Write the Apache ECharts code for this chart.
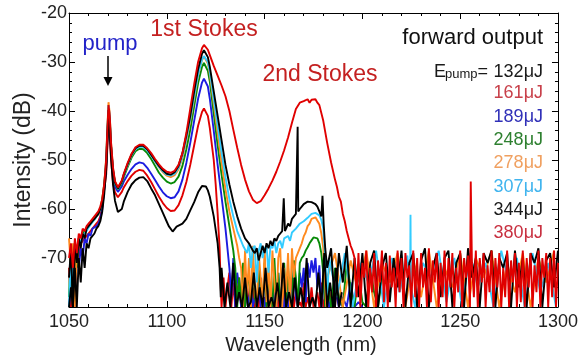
<!DOCTYPE html>
<html><head><meta charset="utf-8">
<script src="https://cdn.jsdelivr.net/npm/echarts@6/dist/echarts.min.js"></script>
<style>html,body{margin:0;padding:0;background:#fff}#c{width:581px;height:361px}</style>
</head><body><div id="c"></div>
<script>
// ---- tick labels / legend ----
const xTickLabels = [1050,1100,1150,1200,1250,1300];
const yTickLabels = [-70,-60,-50,-40,-30,-20];
const energies = ['132','161','189','248','278','307','344','380'];
const lineColors = ['#000000','#e00000','#1c1ce0','#078a07','#ff8a1e','#33ccff','#000000','#e00000'];
const labelColors = ['#1a1a1a','#c8404a','#3030b8','#2e8030','#f0a060','#40b4ee','#1a1a1a','#c83040'];

// ---- leading part 1050..1068 nm, 1 nm sampling ----
const lead132 = [-80,-76,-80,-72,-80,-70,-75,-68,-72,-67,-68,-66,-66,-65,-64,-63.5,-62.5,-60.5,-57];
const lead161 = [-72,-80,-69,-73,-68,-70,-67,-67,-66,-66,-65,-64.5,-64,-63.5,-63,-62.5,-61.5,-59.5,-56];
const lead189 = [-80,-75,-71,-80,-70,-72,-68,-70,-66,-67,-65,-65.5,-64,-64,-63.5,-63,-62,-60,-56];
const lead248 = [-78,-68,-80,-68,-72,-66,-66,-65,-64.5,-64,-63.5,-63,-62.5,-62,-61.5,-61,-60,-58,-55];
const lead278 = [-66,-72,-67,-80,-68,-66.5,-67,-65,-65.5,-64,-64,-63,-62.5,-62,-61.5,-61,-60,-58,-55];
const lead307 = [-80,-69,-75,-67,-70,-66,-67,-65.5,-65,-64.5,-63.8,-63.2,-62.8,-62.2,-61.6,-61,-60,-58.5,-55.5];
const lead344 = [-74,-68,-80,-67,-71,-66,-68,-65,-66,-64,-64,-63,-62.5,-62,-61.5,-61,-60,-58.5,-55.5];
const lead380 = [-70,-67,-72,-66,-69,-65,-66,-64,-64.5,-63.5,-63,-62.5,-62,-61.5,-61,-60.5,-59.5,-58,-55];

// ---- main spectra [nm, dB] ----
const main380 = [[1069,-50],[1069.6,-44],[1070.2,-38.8],[1070.8,-40.8],[1071.5,-46.5],[1072.5,-51.5],[1073.5,-54.3],[1075,-55.6],[1076,-55.4],[1077,-54.2],[1078,-52.8],[1080,-50.6],[1082,-48.7],[1084,-47.4],[1086,-46.9],[1088,-46.9],[1090,-47.6],[1092,-48.6],[1094,-49.8],[1096,-50.9],[1098,-51.8],[1100,-52.4],[1102,-52.6],[1104,-52.2],[1106,-51],[1108,-48.6],[1110,-44.5],[1112,-39.5],[1114,-34.5],[1116,-30],[1118,-27.2],[1119,-26.5],[1120,-26.7],[1121,-27.5],[1122,-28.6],[1124,-30.8],[1126,-32.8],[1128,-34.8],[1130,-37],[1132,-40],[1134,-43.8],[1136,-47.5],[1138,-51],[1140,-54],[1142,-56.4],[1144,-58.1],[1146,-58.8],[1148,-58.4],[1150,-57.2],[1152,-55.8],[1154,-54.2],[1156,-52.4],[1158,-50.3],[1160,-48],[1162,-45.4],[1164,-42.4],[1166,-39.6],[1168,-38.3],[1170,-38],[1172,-37.6],[1173,-38.3],[1174,-37.7],[1176,-37.6],[1177,-38.3],[1178,-38.8],[1180,-42],[1182,-46.5],[1184,-50.5],[1186,-54],[1187,-55.5],[1188,-57.5],[1189,-58.5],[1190,-61],[1191,-62.5],[1192,-64.5],[1193,-66],[1194,-67.5],[1195,-68.5],[1255.4,-54.4]];
const main344 = [[1069,-51],[1069.6,-45],[1070.2,-39.8],[1070.8,-41.8],[1071.5,-47.2],[1072.5,-52],[1073.5,-54.6],[1075,-55.8],[1076,-55.5],[1077,-54.4],[1078,-53],[1080,-50.8],[1082,-48.9],[1084,-47.6],[1086,-47.1],[1088,-47.1],[1090,-47.8],[1092,-48.9],[1094,-50.1],[1096,-51.2],[1098,-52.1],[1100,-52.8],[1102,-53],[1104,-52.5],[1106,-51.2],[1108,-48.6],[1110,-45],[1112,-41],[1114,-36],[1116,-31.5],[1118,-28.3],[1119,-27.6],[1120,-27.9],[1121,-29],[1122,-31],[1124,-36],[1126,-41],[1128,-46],[1130,-51],[1132,-55],[1134,-58.5],[1136,-61.5],[1138,-64],[1140,-66],[1142,-67],[1144,-68.5],[1145,-69],[1146,-68],[1147,-70.5],[1148,-69],[1149,-67.5],[1150,-69],[1151,-67],[1152,-68],[1153,-66.5],[1154,-67.5],[1155,-66],[1156,-66.5],[1157,-65.5],[1158,-65],[1159,-64.5],[1159.8,-57.8],[1160.4,-64.5],[1161,-64],[1162,-63],[1163,-63.5],[1164,-62],[1165,-61.8],[1166,-61],[1166.6,-60.8],[1166.9,-43.2],[1167.2,-60.5],[1168,-60],[1169,-59.5],[1170,-59],[1171,-58.7],[1172,-58.5],[1173,-58.8],[1174,-58.6],[1175,-58.7],[1176,-59],[1177,-59.5],[1178,-60.5],[1179,-61.5],[1179.6,-57.3],[1180.2,-63],[1181,-68]];
const main307 = [[1069,-50],[1069.6,-44],[1070.2,-38.8],[1070.8,-41],[1071.5,-47],[1072.5,-52],[1073.5,-54.7],[1075,-55.9],[1076,-55.6],[1077,-54.5],[1078,-53.1],[1080,-51],[1082,-49],[1084,-47.8],[1086,-47.3],[1088,-47.3],[1090,-48],[1092,-49.1],[1094,-50.3],[1096,-51.4],[1098,-52.3],[1100,-53],[1102,-53.2],[1104,-52.8],[1106,-51.6],[1108,-49.2],[1110,-45.6],[1112,-41.6],[1114,-37],[1116,-32.6],[1118,-29.5],[1119,-28.8],[1120,-29],[1121,-30],[1122,-32],[1124,-37.5],[1126,-43],[1128,-48.5],[1130,-53.5],[1132,-58],[1134,-61.5],[1136,-64.5],[1138,-66.5],[1139,-67.5],[1162,-65.5],[1163,-66.5],[1164,-64.8],[1165,-65.2],[1166,-64],[1167,-64.2],[1168,-63],[1169,-63.4],[1170,-62.5],[1171,-62.4],[1172,-61.8],[1173,-61.6],[1174,-61],[1175,-61.2],[1176,-60.8],[1177,-61],[1178,-61.3],[1179,-62.2],[1180,-64],[1181,-70],[1182,-78],[1224.4,-76],[1224.6,-61.2],[1224.8,-76]];
const main278 = [[1069,-49.5],[1069.6,-43.5],[1070.2,-38.2],[1070.8,-40.4],[1071.5,-46.5],[1072.5,-51.8],[1073.5,-54.4],[1075,-55.6],[1076,-55.4],[1077,-54.4],[1078,-53],[1080,-51],[1082,-49],[1084,-47.7],[1086,-47.2],[1088,-47.2],[1090,-47.9],[1092,-49],[1094,-50.3],[1096,-51.5],[1098,-52.5],[1100,-53.2],[1102,-53.5],[1104,-53.1],[1106,-51.9],[1108,-49.6],[1110,-46],[1112,-42],[1114,-37.4],[1116,-32.8],[1118,-29.6],[1119,-28.9],[1120,-29.1],[1121,-30.3],[1122,-32.5],[1124,-38.5],[1126,-44.5],[1128,-50.5],[1130,-56],[1132,-60.5],[1134,-64],[1136,-67.5],[1137,-70],[1169,-67],[1170,-65.6],[1171,-64.8],[1172,-63.5],[1173,-63],[1174,-62],[1175,-61.6],[1176,-61.7],[1177,-62],[1178,-63],[1179,-65],[1180,-68],[1180.8,-74],[1181.5,-80]];
const main248 = [[1069,-50.5],[1069.6,-44.5],[1070.2,-39.3],[1070.8,-41.5],[1071.5,-47.3],[1072.5,-52.3],[1073.5,-54.9],[1075,-56],[1076,-55.8],[1077,-54.8],[1078,-53.5],[1080,-51.4],[1082,-49.5],[1084,-48.2],[1086,-47.7],[1088,-47.8],[1090,-48.6],[1092,-49.8],[1094,-51.2],[1096,-52.6],[1098,-53.6],[1100,-54.4],[1102,-54.8],[1104,-54.5],[1106,-53.4],[1108,-51.2],[1110,-47.8],[1112,-43.8],[1114,-39],[1116,-34.3],[1118,-31],[1119,-30.2],[1120,-30.5],[1121,-31.8],[1122,-34],[1124,-40.5],[1126,-47],[1128,-53],[1130,-58.5],[1132,-63.5],[1134,-68.5],[1170,-69.5],[1171,-68.5],[1172,-67.8],[1173,-67],[1174,-66.4],[1175,-65.8],[1176,-65.5],[1177,-66],[1178,-67],[1179,-69],[1180,-73],[1181,-80]];
const main189 = [[1069,-51.5],[1069.6,-45.5],[1070.2,-40.3],[1070.8,-42.5],[1071.5,-48.5],[1072.5,-53],[1073.5,-55.4],[1075,-56.5],[1076,-56.3],[1077,-55.4],[1078,-54.4],[1080,-53],[1082,-51.8],[1084,-50.9],[1086,-50.5],[1088,-50.7],[1090,-51.6],[1092,-52.8],[1094,-54.1],[1096,-55.4],[1098,-56.6],[1100,-57.4],[1102,-57.8],[1104,-57.6],[1106,-56.4],[1108,-54],[1110,-50.6],[1112,-46.5],[1114,-42],[1116,-37.5],[1118,-34.2],[1119,-33.4],[1120,-33.7],[1121,-35],[1122,-37.5],[1124,-44],[1126,-51],[1128,-57.5],[1130,-64],[1131,-68]];
const main161 = [[1069,-53],[1069.6,-47.5],[1070.2,-42.3],[1070.8,-44.5],[1071.5,-50],[1072.5,-54.5],[1073.5,-56.6],[1075,-57.6],[1076,-57.4],[1077,-56.5],[1078,-55.6],[1080,-54.3],[1082,-53.2],[1084,-52.4],[1086,-52],[1088,-52.2],[1090,-53.2],[1092,-54.5],[1094,-56],[1096,-57.5],[1098,-58.8],[1100,-59.8],[1102,-60.4],[1104,-60.3],[1106,-59.2],[1108,-57.2],[1110,-54.5],[1112,-51],[1114,-47],[1116,-43],[1118,-40.2],[1119,-39.5],[1120,-39.8],[1121,-41],[1122,-43.5],[1124,-50],[1125,-55],[1126,-61],[1127,-68],[1127.6,-76]];
const main132 = [[1069,-52],[1069.6,-46.5],[1070.2,-41],[1070.8,-43.5],[1071.5,-49.5],[1072.5,-55],[1073.5,-58.3],[1075,-60.6],[1076,-60.8],[1077,-60],[1078,-58.5],[1080,-56.5],[1082,-55],[1084,-54.1],[1086,-53.6],[1088,-53.5],[1090,-54.3],[1092,-55.8],[1094,-57.2],[1096,-59],[1098,-60.8],[1100,-62.6],[1101,-63.5],[1102,-63.2],[1103,-64.6],[1104,-64.4],[1105,-63.6],[1106,-63.9],[1108,-63],[1110,-62],[1112,-60.3],[1114,-58.6],[1116,-56.6],[1118,-55.3],[1119,-55.1],[1120,-55.4],[1121,-56.2],[1122,-57.5],[1124,-61.5],[1126,-67],[1127,-72],[1127.6,-78]];

// ---- noise floor readings (start nm, step nm, values) ----
const noise380 = [-70,-78,-69,-80,-71,-74,-68.5,-80,-72,-77, -69,-80,-70.5,-75,-68.5,-79,-71,-80,-69.5,-76, -72,-80,-68.5,-77,-70,-80,-69,-74,-71.5,-80, -68.5,-78,-70,-80,-69,-76,-72,-80,-68,-79, -70.5,-75,-69,-80,-71,-78,-68.5,-80,-70,-76, -69,-80,-72,-77,-68.5,-80,-70,-74,-69.5,-80, -71,-78,-68.5,-80,-70,-75,-69,-80,-71.5,-77, -68.5,-80,-70,-76,-69,-80,-72,-78,-68.5,-80, -70.5,-75,-69,-80,-71,-79,-68.5,-80,-70,-76, -69,-80,-71.5,-77,-68.5,-80,-70,-74,-69,-80, -70,-78,-68.5,-80,-71];
const noise344 = [-72,-68,-80,-69,-75,-67.5,-80,-70,-78,-69, -80,-71,-68.5,-80,-72,-69,-79,-70,-76,-68.5, -80,-71,-69,-80,-70.5,-68,-80,-72,-69,-78, -70,-68.5,-80,-71,-69,-80,-68,-74,-70,-80, -69,-71,-68.5,-80,-70,-72,-69,-80,-68.5,-76, -70,-80,-69,-71,-68,-80,-70.5,-69,-76,-68.5];
const noise307a = [-67.5,-69,-67,-72,-68,-67.5,-75,-68.5,-67,-70,-68,-67.5,-73,-67.5,-68,-66.5,-69,-67,-66.5,-68,-66];
const noise307b = [-70,-78,-69,-80,-71,-75,-68.5,-80,-70,-77,-69.5,-80,-71,-74,-68.5,-79,-70,-80,-69,-76,-71,-80,-68.5,-75,-70,-80,-69,-77,-71,-80];
const noise278a = [-72,-80,-68.5,-78,-70,-80,-67.5,-76,-80,-69,-74,-80,-68,-79,-71,-80,-68.5,-75,-80,-70,-68,-80,-72,-77,-69,-80,-68,-74,-70,-69,-68];
const noise278b = [-74,-69,-80,-70.5,-77,-68.5,-80,-71,-75,-69,-80,-70,-78,-68.5,-80,-72,-76,-69,-80,-70,-74,-68.5,-80,-71,-77,-69,-80,-70,-75,-68.5];
const noise248a = [-72,-80,-74,-79,-71,-80,-76,-73,-80,-70.5,-78,-80,-72,-76,-80,-71,-80,-74,-77,-80,-70,-79,-73,-80,-75,-71,-80,-72,-78,-80,-70.5,-74,-80,-71,-70];
const noise248b = [-74,-80,-72,-78,-80,-71,-76,-80,-73,-79,-80,-72,-77,-80,-74];
const noise189a = [-72,-78,-70,-80,-73,-76,-80,-74,-80,-77,-80,-75,-80,-78,-80,-74,-80,-76,-80,-80,-75,-79,-80,-77,-80,-73,-80,-78,-80,-76,-80,-74,-80,-72,-78,-80,-73, -76,-72,-79,-71,-74,-70.5,-73,-70,-76,-71.5,-80,-74,-80,-77,-80];
const noise189b = [-80,-76,-80,-78,-80,-75,-80,-79,-80];
const noise161 = [-80,-74,-80,-76,-73,-80,-75,-80,-77,-74, -80,-78,-80,-75,-80,-79,-76,-80,-77,-80, -74,-80,-78,-80,-76,-80,-79,-80,-75,-80, -77,-80,-76,-80,-78,-80,-74,-80,-77,-80, -79,-80,-75,-80,-78,-80,-76,-80,-80,-77, -80,-75,-80,-78,-80,-76,-80,-79,-80,-74, -80,-77,-80];
const noise132 = [-72,-80,-75,-80,-71,-80,-77,-80,-74,-80, -79,-73,-80,-76,-80,-72,-80,-78,-80,-75, -80,-71,-80,-77,-80,-74,-80,-76,-80,-70, -80,-78,-80,-73,-80,-69,-80,-75,-80,-72, -80,-77];

function onGrid(start, step, vals){ return vals.map((v,i)=>[+(start+i*step).toFixed(2), v]); }
function build(parts){ return [].concat(...parts).sort((a,b)=>a[0]-b[0]); }

const spectra = {
  '132': build([onGrid(1050,1,lead132), main132, onGrid(1128,1.5,noise132)]),
  '161': build([onGrid(1050,1,lead161), main161, onGrid(1128,1,noise161)]),
  '189': build([onGrid(1050,1,lead189), main189, onGrid(1132,1,noise189a), onGrid(1184,2,noise189b)]),
  '248': build([onGrid(1050,1,lead248), main248, onGrid(1135,1,noise248a), onGrid(1182,2,noise248b)]),
  '278': build([onGrid(1050,1,lead278), main278, onGrid(1138,1,noise278a), onGrid(1182,4,noise278b)]),
  '307': build([onGrid(1050,1,lead307), main307, onGrid(1140,1,noise307a), onGrid(1183,4,noise307b)]),
  '344': build([onGrid(1050,1,lead344), main344, onGrid(1182,2,noise344)]),
  '380': build([onGrid(1050,1,lead380), main380, onGrid(1196,1,noise380)])
};
const drawOrder = ['161','189','248','278','307','132','344','380'];

const FONT = '"Liberation Sans", Arial, Helvetica, sans-serif';
const chart = echarts.init(document.getElementById('c'), null, {renderer:'canvas'});

const axisCommon = {
  type:'value', axisLine:{show:true, lineStyle:{color:'#000', width:1}},
  axisTick:{show:true, inside:true, length:6, lineStyle:{color:'#000'}},
  minorTick:{show:true, splitNumber:5, length:3, lineStyle:{color:'#000'}},
  splitLine:{show:false}
};

const legendTexts = energies.map((e,i)=>({
  type:'text', x:543, y:[72,93.5,116.7,140,163.3,186.7,210,233.3][i],
  style:{text: e+'μJ', fill: labelColors[i], font:'18px '+FONT, align:'right', verticalAlign:'middle', textAlign:'right', textVerticalAlign:'middle'},
  z:100
}));

chart.setOption({
  animation:false,
  backgroundColor:'#fff',
  grid:{left:69, right:19, top:13, bottom:54, containLabel:false},
  xAxis:[
    Object.assign({}, axisCommon, {min:1050, max:1300, interval:50, position:'bottom',
      axisLabel:{show:true, fontSize:18, fontFamily:FONT, color:'#222', margin:6,
        formatter:v=>xTickLabels.includes(v)?String(v):''}}),
    Object.assign({}, axisCommon, {min:1050, max:1300, interval:50, position:'top', axisLabel:{show:false}})
  ],
  yAxis:[
    Object.assign({}, axisCommon, {min:-80, max:-20, interval:10, position:'left',
      axisLabel:{show:true, showMinLabel:false, fontSize:18, fontFamily:FONT, color:'#222', margin:2,
        formatter:v=>yTickLabels.includes(v)?String(v):''}}),
    Object.assign({}, axisCommon, {min:-80, max:-20, interval:10, position:'right', axisLabel:{show:false}})
  ],
  series: drawOrder.map(k=>{
    const i = energies.indexOf(k);
    return {type:'line', name:k+'μJ', data:spectra[k], xAxisIndex:0, yAxisIndex:0,
      showSymbol:false, symbol:'none', clip:true, smooth:false,
      lineStyle:{color:lineColors[i], width:1.9}, itemStyle:{color:lineColors[i]}};
  }),
  graphic:[
    {type:'text', x:24, y:160, rotation:Math.PI/2,
      style:{text:'Intensity (dB)', fill:'#222', font:'23px '+FONT, align:'center', verticalAlign:'middle', textAlign:'center', textVerticalAlign:'middle'}},
    {type:'text', x:301, y:345,
      style:{text:'Wavelength (nm)', fill:'#222', font:'20px '+FONT, align:'center', verticalAlign:'middle', textAlign:'center', textVerticalAlign:'middle'}},
    {type:'text', x:110, y:44,
      style:{text:'pump', fill:'#2323c8', font:'22px '+FONT, align:'center', verticalAlign:'middle', textAlign:'center', textVerticalAlign:'middle'}},
    {type:'line', shape:{x1:108, y1:56, x2:108, y2:78}, style:{stroke:'#000', lineWidth:1.5}},
    {type:'polygon', shape:{points:[[103.5,77],[112.5,77],[108,86]]}, style:{fill:'#000'}},
    {type:'text', x:204, y:30,
      style:{text:'1st Stokes', fill:'#c42020', font:'23px '+FONT, align:'center', verticalAlign:'middle', textAlign:'center', textVerticalAlign:'middle'}},
    {type:'text', x:320, y:75,
      style:{text:'2nd Stokes', fill:'#c42020', font:'23px '+FONT, align:'center', verticalAlign:'middle', textAlign:'center', textVerticalAlign:'middle'}},
    {type:'text', x:543, y:38,
      style:{text:'forward output', fill:'#111', font:'22px '+FONT, align:'right', verticalAlign:'middle', textAlign:'right', textVerticalAlign:'middle'}},
    {type:'text', x:434, y:72,
      style:{text:'E', fill:'#1a1a1a', font:'18px '+FONT, align:'left', verticalAlign:'middle', textAlign:'left', textVerticalAlign:'middle'}},
    {type:'text', x:445, y:74.5,
      style:{text:'pump', fill:'#1a1a1a', font:'13px '+FONT, align:'left', verticalAlign:'middle', textAlign:'left', textVerticalAlign:'middle'}},
    {type:'text', x:493, y:72,
      style:{text:'= ', fill:'#1a1a1a', font:'18px '+FONT, align:'right', verticalAlign:'middle', textAlign:'right', textVerticalAlign:'middle'}}
  ].concat(legendTexts)
});
</script></body></html>
